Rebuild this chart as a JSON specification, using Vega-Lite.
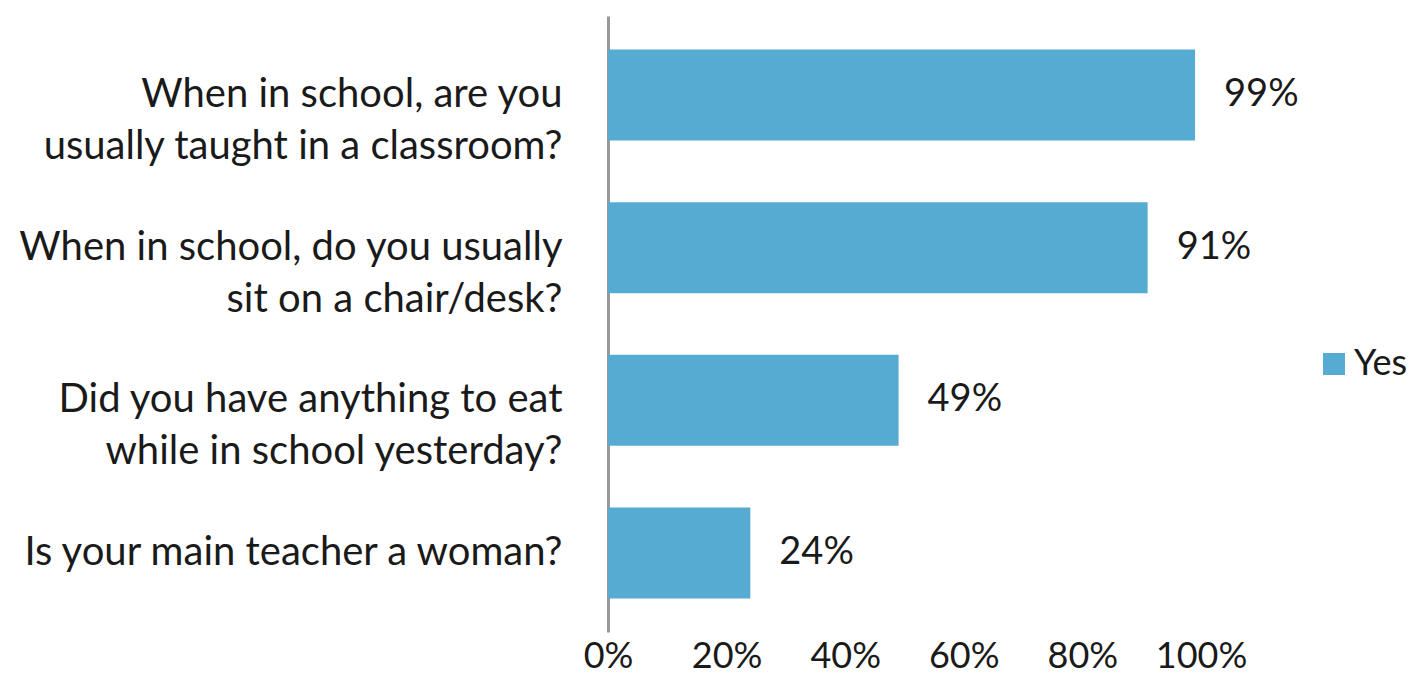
{
  "$schema": "https://vega.github.io/schema/vega-lite/v6.json",
  "width": 593,
  "height": 616,
  "autosize": {"type": "none"},
  "padding": {"left": 608, "top": 16, "right": 209, "bottom": 46},
  "background": "white",
  "config": {
    "view": {"stroke": null},
    "font": "Lato",
    "text": {"font": "Lato"}
  },
  "data": {
    "values": [
      {"question": "When in school, are you|usually taught in a classroom?", "value": 0.99, "label": "99%", "series": "Yes"},
      {"question": "When in school, do you usually|sit on a chair/desk?", "value": 0.91, "label": "91%", "series": "Yes"},
      {"question": "Did you have anything to eat|while in school yesterday?", "value": 0.49, "label": "49%", "series": "Yes"},
      {"question": "Is your main teacher a woman?", "value": 0.24, "label": "24%", "series": "Yes"}
    ]
  },
  "encoding": {
    "y": {
      "field": "question",
      "type": "nominal",
      "sort": null,
      "scale": {"paddingInner": 0.404, "paddingOuter": 0.219},
      "axis": {
        "title": null,
        "ticks": false,
        "domain": true,
        "domainColor": "#999999",
        "domainWidth": 3,
        "labelExpr": "split(datum.label, '|')",
        "labelFont": "Lato",
        "labelFontSize": 40,
        "labelColor": "#1a1a1a",
        "labelLineHeight": 52,
        "labelPadding": 46,
        "labelLimit": 700
      }
    },
    "x": {
      "field": "value",
      "type": "quantitative",
      "scale": {"domain": [0, 1], "nice": false},
      "axis": {
        "title": null,
        "format": ".0%",
        "values": [0, 0.2, 0.4, 0.6, 0.8, 1],
        "domain": false,
        "ticks": false,
        "grid": false,
        "labelFont": "Lato",
        "labelFontSize": 36,
        "labelColor": "#1a1a1a",
        "labelPadding": 7,
        "labelFlush": false
      }
    }
  },
  "layer": [
    {
      "mark": {"type": "bar", "color": "#56ABD3"},
      "encoding": {
        "color": {
          "field": "series",
          "type": "nominal",
          "scale": {"range": ["#56ABD3"]},
          "legend": {
            "title": null,
            "orient": "none",
            "legendX": 708,
            "legendY": 330,
            "symbolType": "square",
            "symbolSize": 484,
            "symbolStrokeWidth": 0,
            "labelFont": "Lato",
            "labelFontSize": 36,
            "labelColor": "#1a1a1a",
            "labelOffset": 2
          }
        }
      }
    },
    {
      "mark": {"type": "text", "align": "left", "baseline": "middle", "dx": 29, "font": "Lato", "fontSize": 38, "color": "#1a1a1a"},
      "encoding": {"text": {"field": "label"}}
    }
  ]
}
